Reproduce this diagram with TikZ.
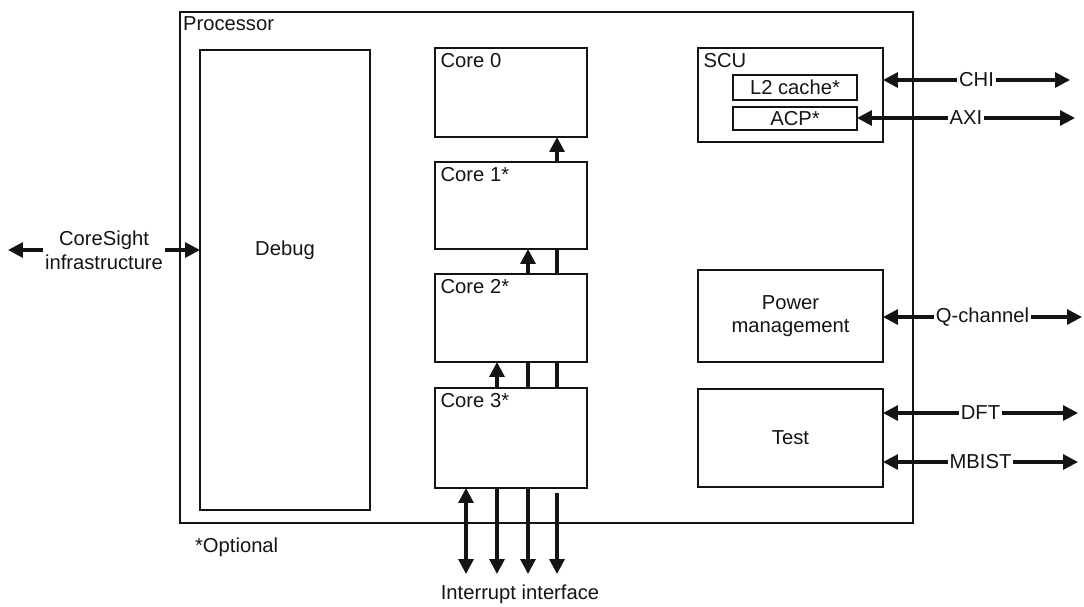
\documentclass[tikz,border=0pt]{standalone}
\usepackage{fontspec}
\setmainfont{Liberation Sans}
\usetikzlibrary{positioning,arrows.meta,calc}
\definecolor{LineBlack}{RGB}{20,20,20}

\begin{document}
\begin{tikzpicture}[x=0.02cm,y=-0.02cm,
  every node/.style={font=\fontsize{11.5}{13.5}\selectfont, text=LineBlack},
  blk/.style={draw=LineBlack, line width=1.2pt, inner sep=0pt, outer sep=0pt},
  tag/.style={anchor=north west, inner sep=3pt},
  sig/.style={draw=LineBlack, line width=1.8pt, -{Triangle[length=8.5pt,width=8.5pt]}},
  bisig/.style={draw=LineBlack, line width=1.8pt, {Triangle[length=8.5pt,width=8.5pt]}-{Triangle[length=8.5pt,width=8.5pt]}},
  plain/.style={draw=LineBlack, line width=1.8pt},
  lbl/.style={fill=white, inner sep=1pt}]
  \useasboundingbox (0,0) rectangle (1084,606);
  \node[blk, minimum width=14.66cm, minimum height=10.22cm] (proc) at (546.5,267.5) {};
  \node[anchor=west, inner sep=1pt] (proclbl) at (181,24) {Processor};
  \node[blk, minimum width=3.4cm, minimum height=9.2cm] (debug) at (285,280) {};
  \node (debuglbl) at (285,250) {Debug};
  \node[blk, minimum width=3.04cm, minimum height=1.78cm] (core0) at (511,92.5) {};
  \node[blk, minimum width=3.04cm, minimum height=1.74cm] (core1) at (511,205.5) {};
  \node[blk, minimum width=3.04cm, minimum height=1.76cm] (core2) at (511,318) {};
  \node[blk, minimum width=3.04cm, minimum height=2cm] (core3) at (511,438) {};
  \node[tag] (core0lbl) at (core0.north west) {Core 0};
  \node[tag] (core1lbl) at (core1.north west) {Core 1*};
  \node[tag] (core2lbl) at (core2.north west) {Core 2*};
  \node[tag] (core3lbl) at (core3.north west) {Core 3*};
  \node[blk, minimum width=3.7cm, minimum height=1.88cm] (scu) at (790.5,95) {};
  \node[tag] (sculbl) at (scu.north west) {SCU};
  \node[blk, minimum width=2.48cm, minimum height=0.5cm] (l2) at (795,87.5) {L2 cache*};
  \node[blk, minimum width=2.48cm, minimum height=0.46cm] (acp) at (795,118.5) {ACP*};
  \node[blk, minimum width=3.7cm, minimum height=1.84cm, align=center] (power) at (790.5,316) {Power\\management};
  \node[blk, minimum width=3.7cm, minimum height=1.96cm] (test) at (790.5,438) {Test};
  \node[anchor=west, inner sep=1pt] (optional) at (193,547) {*Optional};
  \node (irq) at (520,594) {Interrupt interface};

  \coordinate (colA) at (466,0);
  \coordinate (colB) at (497,0);
  \coordinate (colC) at (528,0);
  \coordinate (colD) at (557,0);
  \coordinate (chiEnd) at (1070,80);
  \coordinate (axiEnd) at (1075,118);
  \coordinate (qchEnd) at (1082,317);
  \coordinate (dftEnd) at (1078,413);
  \coordinate (mbistEnd) at (1078,462);
  \coordinate (csEnd) at (8,250);
  \coordinate (irqLow) at (0,574);
  \coordinate (irqTop) at (0,493);

  \draw[sig] (core1.north -| colD) -- (core0.south -| colD);
  \draw[sig] (core2.north -| colC) -- (core1.south -| colC);
  \draw[plain] (core2.north -| colD) -- (core1.south -| colD);
  \draw[sig] (core3.north -| colB) -- (core2.south -| colB);
  \draw[plain] (core3.north -| colC) -- (core2.south -| colC);
  \draw[plain] (core3.north -| colD) -- (core2.south -| colD);

  \draw[bisig] (core3.south -| colA) -- (irqLow -| colA);
  \foreach \col in {colB,colC} {
    \draw[sig] (core3.south -| \col) -- (irqLow -| \col);
  }
  \draw[sig] (irqTop -| colD) -- (irqLow -| colD);

  \draw[bisig] (debug.west |- csEnd) -- (csEnd) node[lbl, midway, align=center] (cslbl) {CoreSight\\infrastructure};
  \draw[bisig] (scu.east |- chiEnd) -- (chiEnd) node[lbl, midway] (chilbl) {CHI};
  \draw[bisig] (acp.east |- axiEnd) -- (axiEnd) node[lbl, midway] (axilbl) {AXI};
  \draw[bisig] (power.east |- qchEnd) -- (qchEnd) node[lbl, midway] (qchlbl) {Q-channel};
  \draw[bisig] (test.east |- dftEnd) -- (dftEnd) node[lbl, midway] (dftlbl) {DFT};
  \draw[bisig] (test.east |- mbistEnd) -- (mbistEnd) node[lbl, midway] (mbistlbl) {MBIST};
\end{tikzpicture}
\end{document}
